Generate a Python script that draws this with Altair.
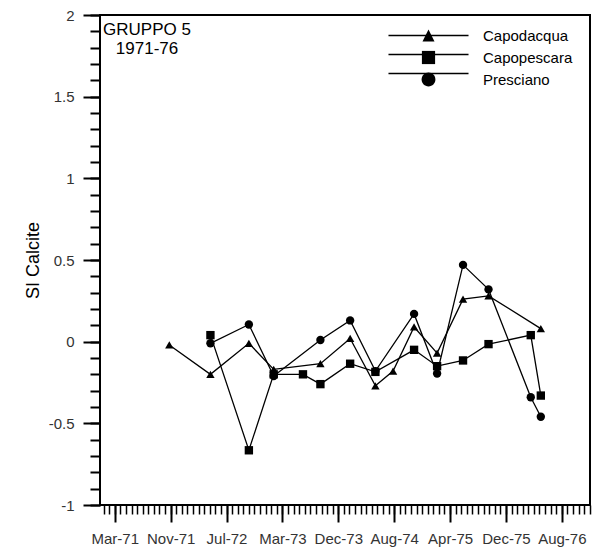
import altair as alt
import pandas as pd

FONT = "Liberation Sans"

series_names = ["Capodacqua", "Capopescara", "Presciano"]

capodacqua_dates = ["1971-11-07", "1972-05-09", "1972-10-28", "1973-02-16", "1973-09-13",
                    "1974-01-24", "1974-05-17", "1974-08-04", "1974-11-06", "1975-02-17",
                    "1975-06-13", "1975-10-05", "1976-05-26"]
capodacqua_si = [-0.02, -0.20, -0.01, -0.17, -0.135, 0.02, -0.27, -0.18, 0.09, -0.07,
                 0.26, 0.28, 0.08]

capopescara_dates = ["1972-05-09", "1972-10-28", "1973-02-16", "1973-06-27", "1973-09-13",
                     "1974-01-24", "1974-05-17", "1974-11-06", "1975-02-17", "1975-06-13",
                     "1975-10-05", "1976-04-11", "1976-05-26"]
capopescara_si = [0.04, -0.665, -0.20, -0.20, -0.26, -0.135, -0.185, -0.05, -0.15, -0.115,
                  -0.015, 0.04, -0.33]

presciano_dates = ["1972-05-09", "1972-10-28", "1973-02-16", "1973-09-13", "1974-01-24",
                   "1974-05-17", "1974-11-06", "1975-02-17", "1975-06-13", "1975-10-05",
                   "1976-04-11", "1976-05-26"]
presciano_si = [-0.01, 0.105, -0.21, 0.01, 0.13, -0.18, 0.17, -0.195, 0.47, 0.32, -0.34, -0.46]

y_major_ticks = [-1, -0.5, 0, 0.5, 1, 1.5, 2]
title_lines = ["GRUPPO 5", "1971-76"]

rows = []
for name, dates, vals in [("Capodacqua", capodacqua_dates, capodacqua_si),
                          ("Capopescara", capopescara_dates, capopescara_si),
                          ("Presciano", presciano_dates, presciano_si)]:
    for d, v in zip(dates, vals):
        rows.append({"site": name, "date": d, "si": v})
df = pd.DataFrame(rows)


def ms(ts):
    return int(pd.Timestamp(ts).value // 10**6)


x_start = pd.Timestamp("1971-01-01")
x_end = pd.Timestamp("1977-01-01")
first_major = pd.Timestamp("1971-03-08")
major_ms = [ms(first_major + pd.Timedelta(days=250 * k)) for k in range(9)]
minor_ms = []
t = first_major - pd.Timedelta(days=50)
while t <= x_end:
    minor_ms.append(ms(t))
    t += pd.Timedelta(days=25)
y_minor = [round(-1 + 0.1 * i, 1) for i in range(31)]

x_scale = alt.Scale(type="utc", domain=[ms(x_start), ms(x_end)], nice=False)
y_scale = alt.Scale(domain=[-1, 2], nice=False, zero=False)

# legend symbols: a horizontal line (stroked) plus a filled marker on top of it
L = 6.67
line_paths = [f"M-{L},0H{L}"] * 3
marker_paths = [
    "M0,-1L1,1H-1Z",
    "M-1.1,-1.1H1.1V1.1H-1.1Z",
    "M-1.15,0A1.15,1.15,0,1,1,1.15,0A1.15,1.15,0,1,1,-1.15,0Z",
]


def legend_params(show_labels):
    extra = {} if show_labels else {"labelExpr": "' '"}
    return alt.Legend(title=None, orient="none", legendX=288, legendY=13,
                      symbolSize=144, symbolStrokeWidth=1.3,
                      symbolOffset=33, labelOffset=47, labelFontSize=15,
                      labelFont=FONT, labelColor="black",
                      rowPadding=3, padding=0, **extra)


lines = alt.Chart(df).mark_line(color="black", strokeWidth=1.3).encode(
    x=alt.X("date:T", scale=x_scale,
            axis=alt.Axis(values=major_ms, labelExpr="utcFormat(datum.value, '%b-%y')",
                          orient="bottom",
                          tickSize=17, tickWidth=2, tickColor="black", domain=False, grid=False,
                          labelFontSize=15, labelFont=FONT, labelColor="#333333",
                          labelPadding=9, labelFlush=False, labelOverlap=False, title=None)),
    y=alt.Y("si:Q", scale=y_scale,
            axis=alt.Axis(values=y_major_ticks, labelExpr="'' + datum.value", orient="left",
                          tickSize=17, tickWidth=2, tickColor="black", domain=False, grid=False,
                          labelFontSize=15, labelFont=FONT, labelColor="#333333", labelPadding=9,
                          title="SI Calcite", titleFontSize=18, titleFont=FONT,
                          titleFontWeight="normal", titleColor="black",
                          titleX=-62, titleY=245, titleAlign="center",
                          titleBaseline="alphabetic")),
    detail="site:N",
    order="date:T",
)

points = alt.Chart(df).mark_point(filled=True, size=70, opacity=1, color="black").encode(
    x=alt.X("date:T", scale=x_scale,
            axis=alt.Axis(values=minor_ms, labels=False, orient="bottom", tickSize=9,
                          tickWidth=1.5, tickColor="black", domain=False, grid=False,
                          title=None)),
    y=alt.Y("si:Q", scale=y_scale,
            axis=alt.Axis(values=y_minor, labels=False, orient="left", tickSize=10,
                          tickWidth=2, tickColor="black", domain=False, grid=False,
                          title=None)),
    shape=alt.Shape("site:N",
                    scale=alt.Scale(domain=series_names,
                                    range=["triangle-up", "square", "circle"]),
                    legend=None),
)

legend_lines = alt.Chart(df).transform_filter("false").mark_point(
    filled=False, stroke="black", strokeWidth=1.3, size=144, opacity=1
).encode(
    x=alt.X("date:T", scale=x_scale, axis=None),
    y=alt.Y("si:Q", scale=y_scale, axis=None),
    shape=alt.Shape("site:N", scale=alt.Scale(domain=series_names, range=line_paths),
                    legend=legend_params(False)),
)

legend_markers = alt.Chart(df).transform_filter("false").mark_point(
    filled=True, color="black", size=144, opacity=1
).encode(
    x=alt.X("date:T", scale=x_scale, axis=None),
    y=alt.Y("si:Q", scale=y_scale, axis=None),
    shape=alt.Shape("site:N", scale=alt.Scale(domain=series_names, range=marker_paths),
                    legend=legend_params(True)),
)

chart = alt.layer(lines, points, legend_lines, legend_markers).resolve_scale(
    shape="independent"
).resolve_axis(
    x="independent", y="independent"
).properties(
    width=490, height=490,
    autosize=alt.AutoSizeParams(type="none"),
    padding={"left": 100, "top": 15, "right": 5, "bottom": 43},
    title=alt.TitleParams(text=title_lines, anchor="start", frame="group", align="center",
                          baseline="top", dx=47, dy=50, offset=0, fontSize=17, font=FONT,
                          fontWeight="normal", color="black", lineHeight=19),
).configure_view(stroke="black", strokeWidth=2)

chart.save("out.html", embed_options={"renderer": "svg", "actions": False})
